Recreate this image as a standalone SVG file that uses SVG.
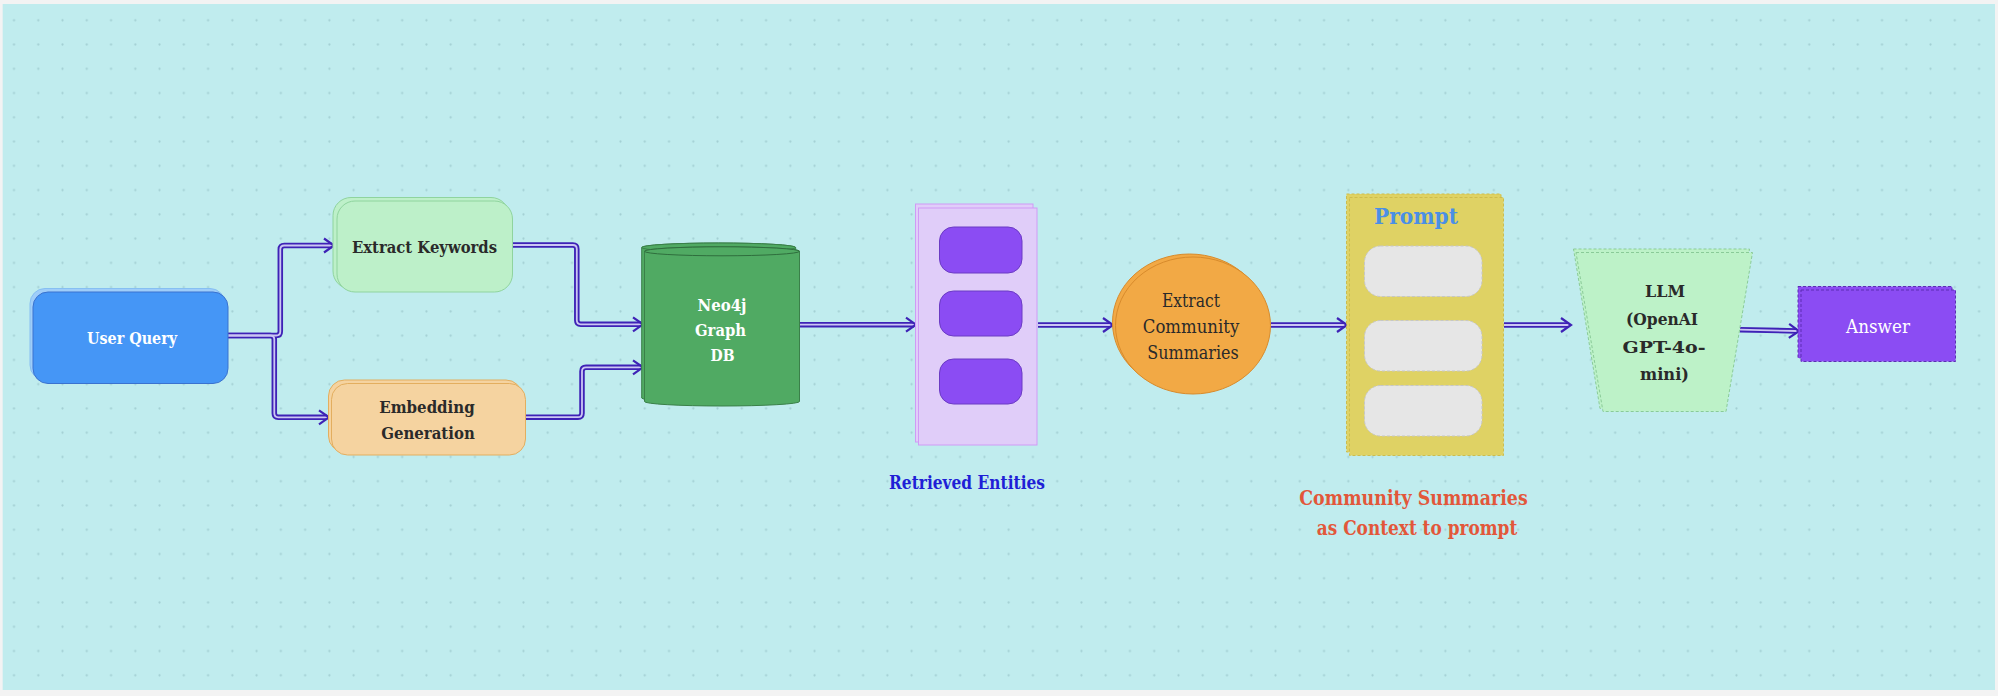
<svg xmlns="http://www.w3.org/2000/svg" width="1998" height="696" viewBox="0 0 1998 696">
<style>
text{font-family:"DejaVu Serif","Liberation Serif",serif;text-anchor:middle;dominant-baseline:central}
.b{font-weight:bold}
.wt{fill:#ffffff}
.dk{fill:#2a2a2a}
.co{fill:none;stroke:#3e22b6;stroke-width:5.5;stroke-linejoin:round}
.ci{fill:none;stroke:#cbc6f3;stroke-width:1.8;stroke-linejoin:round}
.dash{stroke-dasharray:3 2}
</style>
<defs>
<pattern id="dots" patternUnits="userSpaceOnUse" x="1.87" y="8.17" width="24.26" height="24.26">
<circle cx="12.13" cy="12.13" r="1.1" fill="#a3cfd3"/>
</pattern>
<marker id="arr" markerUnits="userSpaceOnUse" markerWidth="16" markerHeight="18" refX="11" refY="8" orient="auto" overflow="visible">
<path d="M1,1 L11,8 L1,15" fill="none" stroke="#3e22b6" stroke-width="2.2" stroke-linejoin="miter"/>
</marker>
</defs>
<rect width="1998" height="696" fill="#f3f3f3"/>
<rect x="2.7" y="4" width="1992.3" height="686" fill="#c0ecee"/>
<rect x="2.7" y="4" width="1992.3" height="686" fill="url(#dots)"/>

<g id="connectors">
<g class="co">
<path d="M228,335.5 H276.3 Q280.3,335.5 280.3,331.5 V249.5 Q280.3,245.5 284.3,245.5 H332"/>
<path d="M228,335.5 H270.3 Q274.3,335.5 274.3,339.5 V413.3 Q274.3,417.3 278.3,417.3 H327"/>
<path d="M512.5,245 H572.8 Q576.8,245 576.8,249 V320.3 Q576.8,324.3 580.8,324.3 H641"/>
<path d="M525.7,417.2 H578 Q582,417.2 582,413.2 V371.3 Q582,367.3 586,367.3 H641"/>
<path d="M800,324.7 H914"/>
<path d="M1038,325 H1111"/>
<path d="M1271,325 H1345"/>
<path d="M1504,325 H1569"/>
<path d="M1740,329.7 L1797,331"/>
</g>
<g class="ci">
<path d="M228,335.5 H276.3 Q280.3,335.5 280.3,331.5 V249.5 Q280.3,245.5 284.3,245.5 H332"/>
<path d="M228,335.5 H270.3 Q274.3,335.5 274.3,339.5 V413.3 Q274.3,417.3 278.3,417.3 H327"/>
<path d="M512.5,245 H572.8 Q576.8,245 576.8,249 V320.3 Q576.8,324.3 580.8,324.3 H641"/>
<path d="M525.7,417.2 H578 Q582,417.2 582,413.2 V371.3 Q582,367.3 586,367.3 H641"/>
<path d="M800,324.7 H914"/>
<path d="M1038,325 H1111"/>
<path d="M1271,325 H1345"/>
<path d="M1504,325 H1569"/>
<path d="M1740,329.7 L1797,331"/>
</g>
<g fill="none" stroke="none">
<path d="M326,245.5 H334" marker-end="url(#arr)"/>
<path d="M320,417.3 H329" marker-end="url(#arr)"/>
<path d="M635,324.3 H643" marker-end="url(#arr)"/>
<path d="M635,367.3 H643" marker-end="url(#arr)"/>
<path d="M908,324.7 H916" marker-end="url(#arr)"/>
<path d="M1105,325 H1113" marker-end="url(#arr)"/>
<path d="M1339,325 H1347" marker-end="url(#arr)"/>
<path d="M1563,325 H1571" marker-end="url(#arr)"/>
<path d="M1791,330.9 L1799,331.1" marker-end="url(#arr)"/>
</g>
</g>

<g id="user-query">
<rect x="30" y="288.5" width="195" height="91.5" rx="15" fill="#9fcdf9" stroke="#86bff2" stroke-width="1"/>
<rect x="33" y="292" width="195" height="91.5" rx="15" fill="#4596f6" stroke="#3a72cf" stroke-width="1"/>
<text x="132" y="338" class="b wt" font-size="17" textLength="90" lengthAdjust="spacingAndGlyphs">User Query</text>
</g>

<g id="extract-keywords">
<rect x="333" y="197.5" width="176" height="91.5" rx="18" fill="#bdf0c9" stroke="#8fd49e" stroke-width="1"/>
<rect x="337" y="201" width="175.5" height="91" rx="18" fill="#bdf0c9" stroke="#8fd49e" stroke-width="1"/>
<text x="424.5" y="246.5" class="b dk" font-size="17" textLength="145" lengthAdjust="spacingAndGlyphs">Extract Keywords</text>
</g>

<g id="embedding-generation">
<rect x="328.5" y="380" width="193.5" height="72" rx="16" fill="#f5d3a0" stroke="#e3ae5f" stroke-width="1"/>
<rect x="331.5" y="383.5" width="194" height="71.5" rx="16" fill="#f5d3a0" stroke="#e3ae5f" stroke-width="1"/>
<text x="427" y="407" class="b dk" font-size="17" textLength="95.5" lengthAdjust="spacingAndGlyphs">Embedding</text>
<text x="428" y="432.5" class="b dk" font-size="17" textLength="93.5" lengthAdjust="spacingAndGlyphs">Generation</text>
</g>

<g id="neo4j">
<path d="M641.7,247.5 V398 A77,4.5 0 0 0 795.7,398 V247.5 A77,4.5 0 0 0 641.7,247.5 Z" fill="#50aa63" stroke="#3a8049" stroke-width="1"/>
<ellipse cx="718.7" cy="247.5" rx="77" ry="4.5" fill="#50aa63" stroke="#3a8049" stroke-width="1"/>
<path d="M644.5,251.3 V401.5 A77.5,4.5 0 0 0 799.5,401.5 V251.3 A77.5,4.5 0 0 0 644.5,251.3 Z" fill="#50aa63" stroke="#3a8049" stroke-width="1"/>
<ellipse cx="722" cy="251.3" rx="77.5" ry="4.5" fill="#50aa63" stroke="#2f6e3d" stroke-width="1"/>
<text x="722" y="305" class="b wt" font-size="17" textLength="49" lengthAdjust="spacingAndGlyphs">Neo4j</text>
<text x="720.5" y="330" class="b wt" font-size="17" textLength="51" lengthAdjust="spacingAndGlyphs">Graph</text>
<text x="722.5" y="355" class="b wt" font-size="17" textLength="24" lengthAdjust="spacingAndGlyphs">DB</text>
</g>

<g id="retrieved-entities">
<rect x="915.5" y="204" width="117.5" height="238" fill="#e0cdf9" stroke="#d09af5" stroke-width="1"/>
<rect x="918.5" y="208" width="118.5" height="237" fill="#e0cdf9" stroke="#d09af5" stroke-width="1"/>
<rect x="939.5" y="227" width="82.5" height="46" rx="14" fill="#8b4cf3" stroke="#6b3bc4" stroke-width="1"/>
<rect x="939.5" y="291" width="82.5" height="45" rx="14" fill="#8b4cf3" stroke="#6b3bc4" stroke-width="1"/>
<rect x="939.5" y="359" width="82.5" height="45" rx="14" fill="#8b4cf3" stroke="#6b3bc4" stroke-width="1"/>
<text x="967" y="482" class="b" font-size="19" fill="#1f1fd6" textLength="156" lengthAdjust="spacingAndGlyphs">Retrieved Entities</text>
</g>

<g id="extract-community-summaries">
<ellipse cx="1189.5" cy="322.5" rx="77" ry="68.5" fill="#f2a945" stroke="#d88b2c" stroke-width="1"/>
<ellipse cx="1193" cy="325.5" rx="77.5" ry="68.5" fill="#f2a945" stroke="#d88b2c" stroke-width="1"/>
<text x="1191" y="300.7" class="dk" font-size="18" textLength="58" lengthAdjust="spacingAndGlyphs">Extract</text>
<text x="1191" y="326.5" class="dk" font-size="18" textLength="96.5" lengthAdjust="spacingAndGlyphs">Community</text>
<text x="1193" y="352" class="dk" font-size="18" textLength="91.5" lengthAdjust="spacingAndGlyphs">Summaries</text>
</g>

<g id="prompt">
<rect x="1346.5" y="194" width="154.5" height="258" fill="#dfd264" stroke="#cdbd4c" stroke-width="1" class="dash"/>
<rect x="1349.5" y="197.5" width="154" height="258" fill="#dfd264" stroke="#cdbd4c" stroke-width="1" class="dash"/>
<text x="1416" y="216" class="b" font-size="22.5" fill="#4a8fe6" textLength="84" lengthAdjust="spacingAndGlyphs">Prompt</text>
<rect x="1364.5" y="246" width="117.5" height="50.5" rx="16" fill="#e6e6e6" stroke="#c6c6c6" stroke-width="1" class="dash"/>
<rect x="1364.5" y="320.5" width="117.5" height="50.5" rx="16" fill="#e6e6e6" stroke="#c6c6c6" stroke-width="1" class="dash"/>
<rect x="1364.5" y="385.5" width="117.5" height="50.5" rx="16" fill="#e6e6e6" stroke="#c6c6c6" stroke-width="1" class="dash"/>
<text x="1413.5" y="498" class="b" font-size="20" fill="#e2573a" textLength="228.5" lengthAdjust="spacingAndGlyphs">Community Summaries</text>
<text x="1417" y="527.5" class="b" font-size="20" fill="#e2573a" textLength="200.5" lengthAdjust="spacingAndGlyphs">as Context to prompt</text>
</g>

<g id="llm">
<polygon points="1573.5,249 1749.5,249 1723,408.5 1600,408.5" fill="#bdf2c8" stroke="#8acb98" stroke-width="1" class="dash"/>
<polygon points="1576,252.5 1752.5,252.5 1726,411.5 1603,411.5" fill="#bdf2c8" stroke="#8acb98" stroke-width="1" class="dash"/>
<text x="1665" y="291" class="b dk" font-size="17.5" textLength="40" lengthAdjust="spacingAndGlyphs">LLM</text>
<text x="1662" y="319" class="b dk" font-size="17.5" textLength="72" lengthAdjust="spacingAndGlyphs">(OpenAI</text>
<text x="1664" y="347" class="b dk" font-size="17.5" textLength="83" lengthAdjust="spacingAndGlyphs">GPT-4o-</text>
<text x="1664.5" y="374" class="b dk" font-size="17.5" textLength="49" lengthAdjust="spacingAndGlyphs">mini)</text>
</g>

<g id="answer">
<rect x="1798" y="286.5" width="154" height="71.5" fill="#8b4cf3" stroke="#5d2db3" stroke-width="1" class="dash"/>
<rect x="1801" y="290" width="154.5" height="71.5" fill="#8b4cf3" stroke="#5d2db3" stroke-width="1" class="dash"/>
<text x="1878" y="326" class="wt" font-size="19" textLength="64" lengthAdjust="spacingAndGlyphs">Answer</text>
</g>
</svg>
